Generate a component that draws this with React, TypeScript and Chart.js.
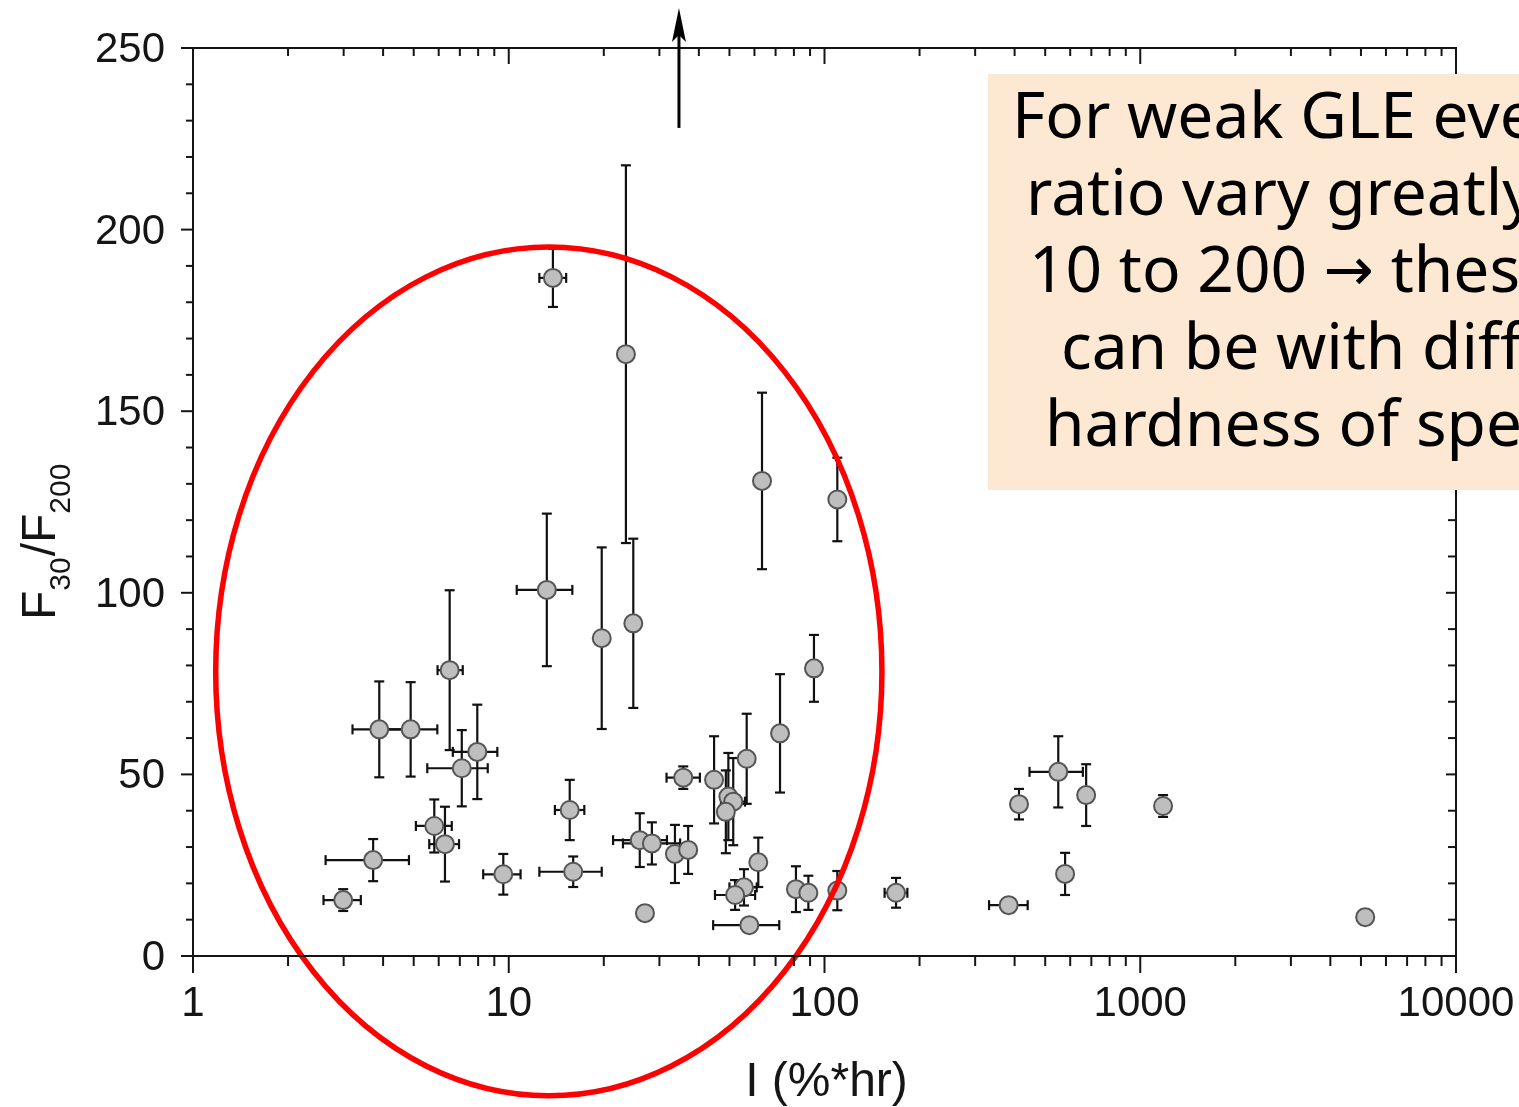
import React, { useEffect, useRef } from "react";
import { Chart, registerables } from "chart.js";

Chart.register(...registerables);

// ---- Data ----
const xValues = [13.8, 23.5, 13.2, 19.7, 24.8, 6.5, 3.89, 4.89, 7.95, 7.1, 5.81, 6.28, 3.72, 2.99, 9.61, 15.6, 16.0, 27.0, 26.0, 28.4, 33.6, 37.0, 35.7, 44.7, 56.7, 72.3, 49.6, 51.4, 48.7, 61.7, 55.6, 52.1, 57.8, 81.2, 88.9, 109.8, 168.5, 63.4, 109.8, 92.6, 383, 413, 550, 578, 674, 1181, 5158];
const yValues = [186.7, 165.7, 100.8, 87.5, 91.6, 78.7, 62.4, 62.4, 56.2, 51.7, 35.8, 30.8, 26.4, 15.4, 22.5, 40.2, 23.2, 11.8, 31.9, 31.0, 28.1, 29.2, 49.1, 48.5, 54.3, 61.3, 43.9, 42.5, 39.7, 25.8, 18.9, 16.8, 8.5, 18.4, 17.4, 18.0, 17.4, 130.8, 125.7, 79.2, 14.0, 41.8, 50.7, 22.6, 44.3, 41.3, 10.7];
const yErrors = [8, 52, 21, 25, 23.3, 22, 13.2, 13, 13, 10.5, 7.3, 10.3, 5.8, 3, 5.6, 8.3, 4.2, 2, 7.4, 5.8, 8, 6.6, 3.1, 12, 12.4, 16.3, 12, 12, 11.4, 6.8, 5, 4.1, 0, 6.3, 4.7, 5.4, 4.1, 24.3, 11.5, 9.2, 2, 4.2, 9.8, 5.8, 8.5, 3, 2];
const xLow = [12.5, 23.5, 10.6, 18.9, 24.8, 5.95, 3.2, 4.03, 6.65, 5.52, 5.08, 5.6, 2.63, 2.59, 8.3, 14.0, 12.5, 26, 21.4, 23.0, 33.6, 35.5, 31.6, 44.7, 56.7, 70.5, 48, 47, 48.7, 61.7, 50, 45, 44.4, 78, 88.9, 104, 155, 63.4, 109.8, 92.6, 332, 400, 446, 578, 650, 1181, 5158];
const xHigh = [15.2, 23.5, 15.9, 20.5, 24.8, 7.15, 4.74, 5.94, 9.2, 8.58, 6.6, 6.96, 4.83, 3.4, 10.9, 17.35, 19.7, 28, 31.7, 34.9, 33.6, 38.5, 40.3, 44.7, 56.7, 74, 51, 56, 48.7, 61.7, 61, 60.3, 71.9, 84, 88.9, 116, 183, 63.4, 109.8, 92.6, 440, 427, 658, 578, 700, 1181, 5158];

const xTickValues = [1, 10, 100, 1000, 10000];
const xTickLabels = ["1", "10", "100", "1000", "10000"];
const yTickValues = [0, 50, 100, 150, 200, 250];
const yTickLabels = ["0", "50", "100", "150", "200", "250"];
const yMinorStep = 10;

const xTitle = "I (%*hr)";
const yTitleParts = [
  { text: "F", sub: false },
  { text: "30", sub: true },
  { text: "/F", sub: false },
  { text: "200", sub: true },
];

// off-scale point marker (arrow) : x value, from y to y
const arrowX = 34.6;
const arrowYFrom = 228;
const arrowYTo = 261;

// highlighted region (ellipse bounds in data units)
const ellipseX = [1.18, 152];
const ellipseY = [-38.5, 195.2];

// note text, each line split in runs (the arrow uses a font with a long arrow glyph)
const noteLines = [
  ["For weak GLE events"],
  ["ratio vary greatly"],
  ["10 to 200 ", "\u2192", " these"],
  ["can be with different"],
  ["hardness of spectra"],
];
const noteLineLeft = [1012, 1026, 1029, 1061, 1045];

const INK = "#151515";
const AXIS_FONT = '"Liberation Sans", Arial, sans-serif';
const NOTE_FONT = '64px "Noto Sans", sans-serif';
const ARROW_FONT = '60px "DejaVu Sans", sans-serif';

const customPlugin = {
  id: "customDecor",
  beforeDatasetsDraw(chart: any) {
    const { ctx, scales } = chart;
    const xs = scales.x;
    const ys = scales.y;
    ctx.save();
    ctx.strokeStyle = "#111";
    ctx.lineWidth = 2.2;
    const line = (a: number, b: number, c: number, d: number) => {
      ctx.beginPath();
      ctx.moveTo(a, b);
      ctx.lineTo(c, d);
      ctx.stroke();
    };
    for (let i = 0; i < xValues.length; i++) {
      const px = xs.getPixelForValue(xValues[i]);
      const py = ys.getPixelForValue(yValues[i]);
      if (yErrors[i] > 0) {
        const t = ys.getPixelForValue(yValues[i] + yErrors[i]);
        const b = ys.getPixelForValue(yValues[i] - yErrors[i]);
        line(px, t, px, b);
        line(px - 5, t, px + 5, t);
        line(px - 5, b, px + 5, b);
      }
      if (xHigh[i] > xLow[i]) {
        const l = xs.getPixelForValue(xLow[i]);
        const r = xs.getPixelForValue(xHigh[i]);
        line(l, py, r, py);
        line(l, py - 5, l, py + 5);
        line(r, py - 5, r, py + 5);
      }
    }
    ctx.restore();
  },
  afterDraw(chart: any) {
    const { ctx, scales, chartArea } = chart;
    const xs = scales.x;
    const ys = scales.y;
    const { left, right, top, bottom } = chartArea;
    ctx.save();

    // red ellipse
    const ex0 = xs.getPixelForValue(ellipseX[0]);
    const ex1 = xs.getPixelForValue(ellipseX[1]);
    const ey0 = ys.getPixelForValue(ellipseY[0]);
    const ey1 = ys.getPixelForValue(ellipseY[1]);
    ctx.strokeStyle = "#ff0000";
    ctx.lineWidth = 5.5;
    ctx.beginPath();
    ctx.ellipse((ex0 + ex1) / 2, (ey0 + ey1) / 2, Math.abs(ex1 - ex0) / 2, Math.abs(ey1 - ey0) / 2, 0, 0, Math.PI * 2);
    ctx.stroke();

    // frame
    ctx.strokeStyle = INK;
    ctx.lineWidth = 2;
    ctx.strokeRect(left, top, right - left, bottom - top);

    const line = (a: number, b: number, c: number, d: number) => {
      ctx.beginPath();
      ctx.moveTo(a, b);
      ctx.lineTo(c, d);
      ctx.stroke();
    };

    // x ticks (log)
    for (let k = 0; k < xTickValues.length; k++) {
      const v = xTickValues[k];
      const px = xs.getPixelForValue(v);
      line(px, bottom, px, bottom + 17);
      line(px, top, px, top + 16);
      if (k < xTickValues.length - 1) {
        for (let m = 2; m <= 9; m++) {
          const mp = xs.getPixelForValue(v * m);
          line(mp, bottom, mp, bottom + 10);
          line(mp, top, mp, top + 8);
        }
      }
    }
    // y ticks
    for (let v = 0; v <= 250; v += yMinorStep) {
      const py = ys.getPixelForValue(v);
      const major = yTickValues.includes(v);
      line(left, py, left - (major ? 12 : 7), py);
      line(right, py, right - (major ? 10 : 8), py);
    }

    // tick labels
    ctx.fillStyle = INK;
    ctx.font = `42px ${AXIS_FONT}`;
    ctx.textBaseline = "alphabetic";
    ctx.textAlign = "center";
    xTickValues.forEach((v, i) => {
      ctx.fillText(xTickLabels[i], xs.getPixelForValue(v), bottom + 60);
    });
    ctx.textAlign = "right";
    yTickValues.forEach((v, i) => {
      ctx.fillText(yTickLabels[i], left - 28, ys.getPixelForValue(v) + 14);
    });

    // x title
    ctx.textAlign = "center";
    ctx.font = `48px ${AXIS_FONT}`;
    ctx.fillText(xTitle, (left + right) / 2 + 2, bottom + 140);

    // y title with subscripts
    ctx.save();
    ctx.translate(55, 620);
    ctx.rotate(-Math.PI / 2);
    ctx.textAlign = "left";
    let cx = 0;
    yTitleParts.forEach((p) => {
      ctx.font = p.sub ? `30px ${AXIS_FONT}` : `48px ${AXIS_FONT}`;
      ctx.fillText(p.text, cx, p.sub ? 15 : 0);
      cx += ctx.measureText(p.text).width + (p.sub ? 1 : 0);
    });
    ctx.restore();

    // arrow for off-scale point
    const ax = xs.getPixelForValue(arrowX);
    const ayB = ys.getPixelForValue(arrowYFrom);
    const ayT = ys.getPixelForValue(arrowYTo);
    ctx.strokeStyle = "#000";
    ctx.fillStyle = "#000";
    ctx.lineWidth = 3;
    line(ax, ayB, ax, ayT + 22);
    ctx.beginPath();
    ctx.moveTo(ax, ayT);
    ctx.lineTo(ax - 7, ayT + 34);
    ctx.lineTo(ax, ayT + 27);
    ctx.lineTo(ax + 7, ayT + 34);
    ctx.closePath();
    ctx.fill();

    // note box
    ctx.fillStyle = "#FDE9D3";
    ctx.fillRect(988, 74, 600, 416);
    ctx.fillStyle = "#000";
    ctx.textAlign = "left";
    noteLines.forEach((runs, i) => {
      let tx = noteLineLeft[i];
      const ty = 138 + i * 77;
      runs.forEach((r) => {
        ctx.font = r === "\u2192" ? ARROW_FONT : NOTE_FONT;
        ctx.fillText(r, tx, r === "\u2192" ? ty - 2 : ty);
        tx += ctx.measureText(r).width;
      });
    });

    ctx.restore();
  },
};

export default function App() {
  const canvasRef = useRef<HTMLCanvasElement | null>(null);

  useEffect(() => {
    const canvas = canvasRef.current;
    if (!canvas) return;
    const chart = new Chart(canvas, {
      type: "scatter",
      data: {
        datasets: [
          {
            label: "F30/F200",
            data: xValues.map((x, i) => ({ x, y: yValues[i] })),
            pointRadius: 9,
            pointHoverRadius: 9,
            pointBackgroundColor: "#BEBEBE",
            pointBorderColor: "#555555",
            pointBorderWidth: 2,
            showLine: false,
          },
        ],
      },
      options: {
        responsive: false,
        animation: false,
        devicePixelRatio: 1,
        layout: { padding: { left: 193, right: 63, top: 48, bottom: 151 } },
        plugins: { legend: { display: false }, tooltip: { enabled: false } },
        events: [],
        scales: {
          x: { type: "logarithmic", min: 1, max: 10000, display: false },
          y: { type: "linear", min: 0, max: 250, display: false },
        },
      },
      plugins: [customPlugin],
    });
    let alive = true;
    if ((document as any).fonts && (document as any).fonts.ready) {
      (document as any).fonts.ready.then(() => {
        if (alive) chart.draw();
      });
    }
    return () => {
      alive = false;
      chart.destroy();
    };
  }, []);

  return (
    <div
      style={{
        position: "fixed",
        left: 0,
        top: 0,
        width: 1519,
        height: 1107,
        overflow: "hidden",
        background: "#fff",
      }}
    >
      <canvas ref={canvasRef} width={1519} height={1107} style={{ display: "block" }} />
    </div>
  );
}
